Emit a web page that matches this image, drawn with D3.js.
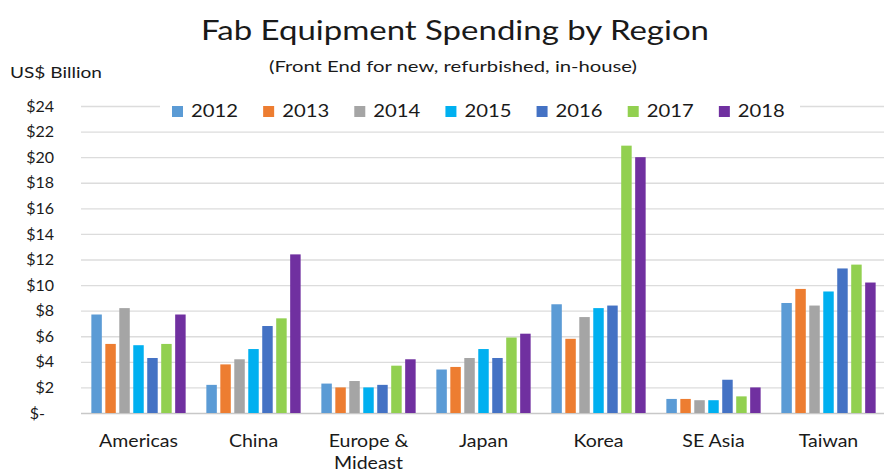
<!DOCTYPE html>
<html>
<head>
<meta charset="utf-8">
<script src="https://cdn.jsdelivr.net/npm/d3@7"></script>
<style>
  body { margin: 0; background: #fff; }
  #chart { width: 884px; height: 475px; }
  text { font-family: Lato, "Open Sans", sans-serif; fill: #1a1a1a; }
</style>
</head>
<body>
<div id="chart"></div>
<script>
// data (US$ billion)
var regions = ["Americas", "China", "Europe & Mideast", "Japan", "Korea", "SE Asia", "Taiwan"];
var years = ["2012", "2013", "2014", "2015", "2016", "2017", "2018"];
var yearColors = ["#5B9BD5", "#ED7D31", "#A5A5A5", "#00B0F0", "#4472C4", "#92D050", "#7030A0"];
var yTicks = [0, 2, 4, 6, 8, 10, 12, 14, 16, 18, 20, 22, 24];

var v2012 = [7.7, 2.2, 2.3, 3.4, 8.5, 1.1, 8.6];
var v2013 = [5.4, 3.8, 2.0, 3.6, 5.8, 1.1, 9.7];
var v2014 = [8.2, 4.2, 2.5, 4.3, 7.5, 1.0, 8.4];
var v2015 = [5.3, 5.0, 2.0, 5.0, 8.2, 1.0, 9.5];
var v2016 = [4.3, 6.8, 2.2, 4.3, 8.4, 2.6, 11.3];
var v2017 = [5.4, 7.4, 3.7, 5.9, 20.9, 1.3, 11.6];
var v2018 = [7.7, 12.4, 4.2, 6.2, 20.0, 2.0, 10.2];
var seriesValues = [v2012, v2013, v2014, v2015, v2016, v2017, v2018];

var W = 884, H = 475;
var margin = {top: 106, right: -2, bottom: 62, left: 81};
var width = W - margin.left - margin.right;
var height = H - margin.top - margin.bottom;

var svg = d3.select("#chart").append("svg")
    .attr("width", W)
    .attr("height", H);

// titles (the original font runs wider than Lato, so stretch to its width)
svg.append("text")
    .attr("x", 455).attr("y", 40)
    .attr("text-anchor", "middle")
    .attr("textLength", 508).attr("lengthAdjust", "spacingAndGlyphs")
    .style("font-size", "26px")
    .text("Fab Equipment Spending by Region");
svg.append("text")
    .attr("x", 453).attr("y", 72)
    .attr("text-anchor", "middle")
    .attr("textLength", 368).attr("lengthAdjust", "spacingAndGlyphs")
    .style("font-size", "15.5px")
    .text("(Front End for new, refurbished, in-house)");
svg.append("text")
    .attr("x", 10).attr("y", 78)
    .attr("textLength", 92).attr("lengthAdjust", "spacingAndGlyphs")
    .style("font-size", "16px")
    .text("US$ Billion");

var g = svg.append("g")
    .attr("transform", "translate(" + margin.left + "," + margin.top + ")");

// scales
var x0 = d3.scaleBand()
    .domain(regions)
    .range([0, width])
    .paddingInner(0.18)
    .paddingOuter(0.09);
var x1 = d3.scaleBand()
    .domain(years)
    .range([0, x0.bandwidth()])
    .paddingInner(0.25);
var y = d3.scaleLinear()
    .domain([0, 24])
    .range([height, 0]);

// gridlines
g.append("g")
    .attr("class", "grid")
    .call(d3.axisLeft(y).tickValues(yTicks).tickSize(-width).tickFormat(""))
    .call(function(s) {
      s.select(".domain").remove();
      s.selectAll("line").attr("stroke", "#dcdcdc").attr("stroke-width", 1.3);
      s.selectAll(".tick").filter(function(d) { return d === 0; }).select("line").attr("stroke", "#c8c8c8");
    });

// y labels
g.append("g")
    .attr("transform", "translate(-24,0)")
    .call(d3.axisLeft(y).tickValues(yTicks).tickSize(0)
      .tickFormat(function(d) { return d === 0 ? "$-" : "$" + d; }))
    .call(function(s) {
      s.select(".domain").remove();
      s.selectAll("text").style("font-size", "16px").attr("fill", "#1a1a1a");
      s.selectAll(".tick").filter(function(d) { return d === 0; }).select("text").attr("dx", "-9");
    });

// bars
var groups = g.selectAll(".region")
    .data(regions)
    .enter().append("g")
    .attr("class", "region")
    .attr("transform", function(d) { return "translate(" + x0(d) + ",0)"; });

groups.selectAll("rect")
    .data(function(r, i) {
      return years.map(function(yr, j) { return {year: yr, value: seriesValues[j][i], color: yearColors[j]}; });
    })
    .enter().append("rect")
    .attr("x", function(d) { return x1(d.year); })
    .attr("y", function(d) { return y(d.value); })
    .attr("width", x1.bandwidth())
    .attr("height", function(d) { return height - y(d.value); })
    .attr("fill", function(d) { return d.color; });

// x labels, "Europe & Mideast" wraps onto two lines
var xAxis = g.append("g")
    .attr("transform", "translate(0," + height + ")")
    .call(d3.axisBottom(x0).tickSize(0).tickPadding(0))
    .call(function(s) { s.select(".domain").remove(); });
xAxis.selectAll("text")
    .style("font-size", "17px")
    .attr("fill", "#1a1a1a")
    .attr("dy", null)
    .attr("transform", "scale(1.15,1)")
    .each(function(d) {
      var t = d3.select(this);
      var parts = d.split("& ");
      t.text(null);
      parts.forEach(function(p, i) {
        t.append("tspan")
          .attr("x", 0)
          .attr("y", 34 + i * 22)
          .text(i < parts.length - 1 ? p + "&" : p);
      });
    });

// legend
var legend = svg.append("g");
legend.append("rect")
    .attr("x", 160).attr("y", 95).attr("width", 640).attr("height", 24)
    .attr("fill", "#fff");
var legX = d3.scaleBand().domain(years).range([172, 810]);
var item = legend.selectAll(".item")
    .data(years)
    .enter().append("g")
    .attr("transform", function(d) { return "translate(" + legX(d) + ",0)"; });
item.append("rect")
    .attr("x", 0).attr("y", 106).attr("width", 11).attr("height", 11)
    .attr("fill", function(d, i) { return yearColors[i]; });
item.append("text")
    .attr("x", 19).attr("y", 117)
    .attr("textLength", 47).attr("lengthAdjust", "spacingAndGlyphs")
    .style("font-size", "17.5px")
    .text(function(d) { return d; });
</script>
</body>
</html>
